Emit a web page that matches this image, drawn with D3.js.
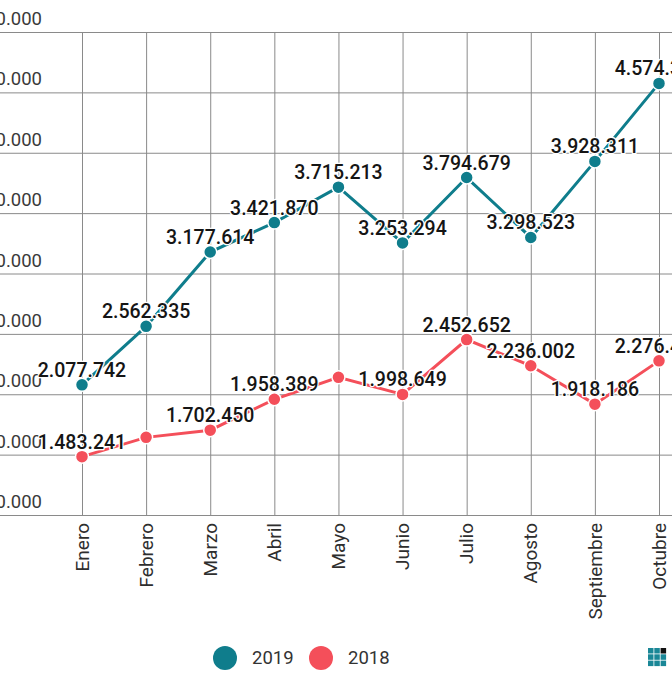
<!DOCTYPE html>
<html>
<head>
<meta charset="utf-8">
<script src="https://cdn.jsdelivr.net/npm/d3@7"></script>
<style>
  body { margin: 0; background: #fff; }
  svg { display: block; font-family: Roboto, "Noto Sans", sans-serif; }
</style>
</head>
<body>
<div id="chart"></div>
<script>
// Months visible in the picture
const months = ["Enero", "Febrero", "Marzo", "Abril", "Mayo", "Junio", "Julio", "Agosto", "Septiembre", "Octubre"];

// Series values
const values2019 = [2077742, 2562335, 3177614, 3421870, 3715213, 3253294, 3794679, 3298523, 3928311, 4574300];
const values2018 = [1483241, 1643000, 1702450, 1958389, 2140000, 1998649, 2452652, 2236002, 1918186, 2276400];

// Labels hidden by the original chart (overlap)
const hidden2019 = [];
const hidden2018 = ["Febrero", "Mayo"];

const seriesNames = ["2019", "2018"];
const seriesColors = ["#0f7d8c", "#f44f5a"];

const yTicks = [1000000, 1500000, 2000000, 2500000, 3000000, 3500000, 4000000, 4500000, 5000000];

const width = 672;
const height = 700;

const locale = d3.formatLocale({ decimal: ",", thousands: ".", grouping: [3], currency: ["", ""] });
const fmt = locale.format(",d");

const svg = d3.select("#chart")
  .append("svg")
  .attr("width", width)
  .attr("height", height);

const x = d3.scalePoint().domain(months).range([82, 659]);
const y = d3.scaleLinear().domain([1000000, 5000000]).range([515, 32]);

// Horizontal grid
svg.append("g")
  .selectAll("line")
  .data(yTicks)
  .enter()
  .append("line")
  .attr("x1", 0)
  .attr("x2", width)
  .attr("y1", (d) => y(d) + 0.5)
  .attr("y2", (d) => y(d) + 0.5)
  .attr("stroke", "#8a8a8a")
  .attr("stroke-width", 1);

// Vertical grid
svg.append("g")
  .selectAll("line")
  .data(months)
  .enter()
  .append("line")
  .attr("x1", (d) => x(d) + 0.5)
  .attr("x2", (d) => x(d) + 0.5)
  .attr("y1", y(5000000))
  .attr("y2", y(1000000))
  .attr("stroke", "#8a8a8a")
  .attr("stroke-width", 1);

// Y labels (sit above their gridline)
svg.append("g")
  .selectAll("text")
  .data(yTicks)
  .enter()
  .append("text")
  .attr("x", 42)
  .attr("y", (d) => y(d) - 7)
  .attr("text-anchor", "end")
  .attr("font-size", "18.5px")
  .attr("fill", "#3a3a3a")
  .text((d) => fmt(d));

// X labels, rotated
svg.append("g")
  .selectAll("text")
  .data(months)
  .enter()
  .append("text")
  .attr("transform", (d) => `translate(${x(d)},${y(1000000) + 8}) rotate(-90)`)
  .attr("text-anchor", "end")
  .attr("dy", "0.35em")
  .attr("font-size", "19px")
  .attr("fill", "#2e2e2e")
  .text((d) => d);

const series = [
  { name: seriesNames[0], values: values2019, hidden: hidden2019, color: seriesColors[0] },
  { name: seriesNames[1], values: values2018, hidden: hidden2018, color: seriesColors[1] },
];

const line = d3.line()
  .x((d) => x(d.month))
  .y((d) => y(d.value));

series.forEach((s) => {
  const pts = months.map((m, i) => ({ month: m, value: s.values[i] }));
  const g = svg.append("g");

  g.append("path")
    .datum(pts)
    .attr("d", line)
    .attr("fill", "none")
    .attr("stroke", s.color)
    .attr("stroke-width", 3);

  g.selectAll("circle")
    .data(pts)
    .enter()
    .append("circle")
    .attr("cx", (d) => x(d.month))
    .attr("cy", (d) => y(d.value))
    .attr("r", 6.5)
    .attr("fill", s.color)
    .attr("stroke", "#fff")
    .attr("stroke-width", 1.5);

  s.pts = pts;
});

// Value labels on top of everything
series.forEach((s) => {
  svg.append("g")
    .selectAll("text")
    .data(s.pts.filter((d) => !s.hidden.includes(d.month)))
    .enter()
    .append("text")
    .attr("x", (d) => x(d.month))
    .attr("y", (d) => y(d.value) - 8)
    .attr("text-anchor", "middle")
    .attr("font-size", "19.5px")
    .attr("font-weight", 500)
    .attr("fill", "#151515")
    .attr("stroke", "#fff")
    .attr("stroke-width", 2.5)
    .attr("stroke-linejoin", "round")
    .attr("paint-order", "stroke")
    .text((d) => fmt(d.value));
});

// Legend
const legend = svg.append("g")
  .selectAll("g")
  .data(series)
  .enter()
  .append("g")
  .attr("transform", (d, i) => `translate(${225 + i * 96},658)`);

legend.append("circle")
  .attr("r", 12)
  .attr("fill", (d) => d.color);

legend.append("text")
  .attr("x", 27)
  .attr("dy", "0.35em")
  .attr("font-size", "18.5px")
  .attr("fill", "#333")
  .text((d) => d.name);

// Small logo mark bottom right
const logoCells = d3.range(9);
svg.append("g")
  .attr("transform", "translate(648,648)")
  .selectAll("rect")
  .data(logoCells)
  .enter()
  .append("rect")
  .attr("x", (d) => (d % 3) * 6.3)
  .attr("y", (d) => Math.floor(d / 3) * 6.3)
  .attr("width", 5.5)
  .attr("height", 5.5)
  .attr("fill", (d) => (d === 2 ? "#111" : "#1a8797"));
</script>
</body>
</html>
